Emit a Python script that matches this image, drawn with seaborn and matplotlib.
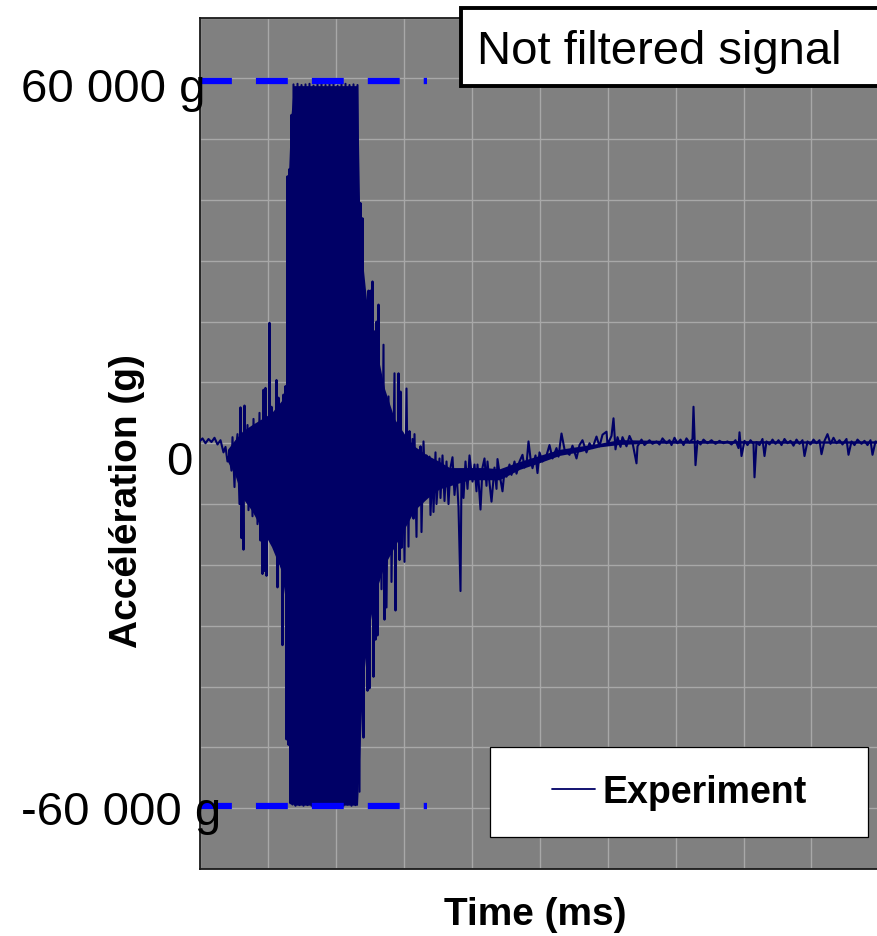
import numpy as np
import pandas as pd
import matplotlib
matplotlib.use("Agg")
import matplotlib.pyplot as plt
import seaborn as sns
from matplotlib.patches import Rectangle

# ---------------- data ----------------
# time in ms, acceleration in g (alternating peaks of the raw signal)
time_ms = [
    0.00, 0.03, 0.06, 0.09, 0.12, 0.15, 0.18, 0.21, 0.24, 0.26,
    0.28, 0.30, 0.32, 0.33, 0.35, 0.36, 0.38, 0.40, 0.41, 0.42,
    0.43, 0.44, 0.45, 0.46, 0.48, 0.49, 0.51, 0.53, 0.54, 0.56,
    0.57, 0.58, 0.60, 0.61, 0.62, 0.63, 0.64, 0.65, 0.66, 0.67,
    0.68, 0.69, 0.70, 0.71, 0.72, 0.73, 0.74, 0.76, 0.77, 0.78,
    0.79, 0.80, 0.81, 0.82, 0.825, 0.83, 0.84, 0.85, 0.86, 0.87,
    0.88, 0.89, 0.90, 0.91, 0.92, 0.93, 0.94, 0.96, 0.98, 1.00,
    1.02, 1.04, 1.06, 1.08, 1.10, 1.12, 1.14, 1.16, 1.18, 1.20,
    1.22, 1.24, 1.26, 1.28, 1.30, 1.32, 1.34, 1.36, 1.38, 1.40,
    1.42, 1.44, 1.46, 1.48, 1.50, 1.52, 1.54, 1.56, 1.58, 1.60,
    1.61, 1.62, 1.63, 1.64, 1.65, 1.66, 1.67, 1.68, 1.69, 1.70,
    1.71, 1.72, 1.73, 1.74, 1.75, 1.76, 1.77, 1.78, 1.79, 1.80,
    1.81, 1.82, 1.84, 1.85, 1.86, 1.87, 1.89, 1.90, 1.91, 1.92,
    1.95, 1.96, 1.97, 1.98, 1.99, 2.00, 2.01, 2.02, 2.03, 2.05,
    2.07, 2.09, 2.10, 2.11, 2.13, 2.14, 2.15, 2.17, 2.18, 2.20,
    2.21, 2.22, 2.24, 2.26, 2.27, 2.28, 2.30, 2.31, 2.33, 2.34,
    2.36, 2.37, 2.40, 2.41, 2.43, 2.45, 2.47, 2.49, 2.51, 2.53,
    2.55, 2.57, 2.59, 2.61, 2.62, 2.64, 2.66, 2.68, 2.70, 2.73,
    2.75, 2.77, 2.78, 2.81, 2.83, 2.85, 2.87, 2.88, 2.90, 2.92,
    2.95, 2.97, 2.98, 3.01, 3.03, 3.05, 3.07, 3.10, 3.12, 3.15,
    3.17, 3.20, 3.23, 3.25, 3.27, 3.29, 3.31, 3.33, 3.36, 3.38,
    3.40, 3.43, 3.47, 3.50, 3.53, 3.57, 3.59, 3.62, 3.65, 3.70,
    3.73, 3.77, 3.80, 3.83, 3.87, 3.90, 3.93, 3.97, 4.00, 4.03,
    4.07, 4.08, 4.12, 4.14, 4.16, 4.18, 4.21, 4.23, 4.27, 4.30,
    4.33, 4.37, 4.38, 4.42, 4.45, 4.50, 4.53, 4.57, 4.60, 4.63,
    4.67, 4.70, 4.72, 4.75, 4.78, 4.81, 4.84, 4.87, 4.90, 4.93,
    4.94, 4.96, 4.98, 5.01, 5.04, 5.08, 5.12, 5.16, 5.20, 5.24,
    5.28, 5.32, 5.36, 5.39, 5.40, 5.42, 5.45, 5.48, 5.51, 5.54,
    5.55, 5.57, 5.60, 5.63, 5.65, 5.67, 5.70, 5.73, 5.76, 5.79,
    5.82, 5.85, 5.88, 5.91, 5.94, 5.97, 6.00, 6.03, 6.05, 6.08,
    6.11, 6.14, 6.17, 6.20, 6.22, 6.25, 6.28, 6.31, 6.34, 6.37,
    6.40, 6.43, 6.47, 6.49, 6.52, 6.55, 6.58, 6.62, 6.65, 6.68,
    6.71, 6.73, 6.76, 6.80,
]
accel_g = [
    300, 800, 0, 700, 200, 900, -200, 500, -1500, -600,
    -3000, -1800, -4500, 1000, -7200, -2000, 1500, -10000, 5900, -15600,
    -3000, -17500, 6200, -8000, 3000, -11000, 2300, -12000, 4000, -9000,
    1600, -13300, 5000, -16000, 3600, -21500, 8800, -21000, 9100, -21800,
    2000, -12000, 19800, -10000, 6000, -13300, 2300, -15000, 10400, -23700,
    7500, -19000, 5500, -14000, 4600, -33200, 8000, -22700, 9400, -48700,
    43900, -49600, 45100, -59200, 54000, -59400, 59000, -59600, 59100, -59500,
    58900, -59600, 59000, -59500, 59100, -59600, 58800, -59400, 59000, -59600,
    59100, -59500, 58900, -59600, 59000, -59500, 59100, -59600, 58800, -59500,
    59000, -59600, 59100, -59400, 58900, -59600, 59000, -59500, 58900, -57300,
    39500, -40000, 37000, -48400, 17800, -27100, 16800, -40700, 25100, -40300,
    25100, -25500, 26600, -38400, 18400, -32300, 20000, -31600, 22800, -17500,
    3600, -24000, 16200, -29000, 6000, -27000, 7700, -12000, 4700, -22800,
    11500, -27500, 2000, -10000, 11500, -19200, 8500, -17200, 1650, -19500,
    9000, -17000, 2000, -8000, 700, -12400, 1500, -15400, -1100, -7000,
    -500, -14600, 300, -9000, -2000, -6000, -2200, -11800, -3000, -11300,
    -1500, -10000, -2500, -9000, -2000, -9500, -3000, -10000, -4000, -2300,
    -8500, -4500, -10500, -24300, -5000, -9000, -3000, -7500, -2000, -6300,
    -3500, -7900, -3500, -10900, -4000, -2500, -7000, -3000, -6500, -9600,
    -4000, -7500, -2600, -6000, -7900, -4500, -5500, -3500, -5200, -3000,
    -5000, -3000, -1900, -4000, -3500, 300, -2500, -4100, -2000, -4900,
    -1500, -3000, -2000, -300, -2500, -800, -2200, 1600, -1000, -1900,
    -400, -2500, -300, 500, -1500, 0, -800, 1100, -500, 1400,
    1900, -200, 1200, 4100, -1000, 1000, -600, 1000, -500, 1200,
    100, -3300, -500, 600, -300, 500, -100, 300, -200, 800,
    0, 500, -300, 900, 0, 600, -300, 800, 100, 700,
    6000, -3600, 400, -200, 600, 0, 500, -100, 400, 0,
    300, -200, 500, -800, 1800, -2100, 400, -300, 500, -100,
    -5600, 200, -300, 700, -2100, 300, -200, 600, -100, 500,
    -300, 700, 0, 400, -400, 600, -100, 500, -2100, 300,
    -200, 600, 0, 500, -1800, 400, 1500, -100, 900, 0,
    500, -200, 700, -1900, 300, -300, 600, -100, 400, -300,
    500, -1900, 300, 0,
]

# solid (saturated-looking) core of the trace: upper / lower edges
core_time_ms = [0.28, 0.35, 0.43, 0.52, 0.62, 0.72, 0.82, 0.86, 0.88, 0.91,
                0.94, 1.58, 1.60, 1.63, 1.68, 1.75, 1.85, 1.95, 2.05, 2.15,
                2.28, 2.40, 2.50, 2.60, 2.70, 2.85, 3.00, 3.20, 3.40, 3.60,
                3.80, 4.00, 4.20, 4.50, 5.00, 6.00, 6.80]
core_upper_g = [-1000, 500, 2000, 3000, 4000, 5000, 7000, 9000, 40000, 53000,
                58800, 58800, 40000, 30000, 22000, 17000, 9000, 4000, 1500, -500,
                -2000, -3000, -4000, -4000, -4000, -4000, -4200, -3000, -2000, -1000,
                -500, 0, 600, 500, 450, 400, 400]
core_lower_g = [-3000, -5000, -9000, -11000, -14000, -17000, -21000, -26000, -45000, -58000,
                -59500, -59500, -52000, -40000, -32000, -25000, -20000, -17000, -14000, -11000,
                -9000, -7500, -7000, -6500, -6000, -6000, -6000, -4300, -3200, -2000,
                -1400, -600, -200, 0, 0, 0, 0]

# saturation limits of the sensor (dashed lines)
limit_time_ms = [0.0, 2.28]
limit_g = 59600

ytick_labels = ["60 000 g", "0", "-60 000 g"]
series_label = "Experiment"
title_box_text = "Not filtered signal"

# ---------------- styling ----------------
sns.set_theme(style="white")
plt.rcParams["font.family"] = ["Liberation Sans", "DejaVu Sans"]
plt.rcParams["text.color"] = "black"

W, H = 877, 937
fig = plt.figure(figsize=(W / 100, H / 100), dpi=100)
ax_left, ax_right, ax_top, ax_bottom = 199.5, 880.0, 18.5, 870.0
ax = fig.add_axes([ax_left / W, 1 - ax_bottom / H,
                   (ax_right - ax_left) / W, (ax_bottom - ax_top) / H])
ax.set_facecolor("#808080")

navy = "#000066"
df = pd.DataFrame({"time_ms": time_ms, "accel_g": accel_g})

ax.fill_between(core_time_ms, core_lower_g, core_upper_g, color=navy,
                linewidth=0, zorder=2)
sns.lineplot(data=df, x="time_ms", y="accel_g", ax=ax, color=navy,
             linewidth=1.5, estimator=None, sort=False, label=series_label,
             zorder=3, legend=False)

for sgn in (1, -1):
    ax.plot(limit_time_ms, [sgn * limit_g] * 2, color="#0000FF", linewidth=4.5,
            dashes=(5.1, 3.85), solid_capstyle="butt", zorder=4)

ax.set_xlim(0, 6.805)
ax.set_ylim(-70000, 70000)
ax.set_xticks(np.arange(0, 6.81, 0.68))
ax.set_yticks(np.arange(-70000, 70001, 10000))
ax.grid(True, color="#A8A8A8", linewidth=1.0, zorder=1)
ax.set_axisbelow(True)
ax.tick_params(length=0, labelbottom=False, labelleft=False)
ax.set_xlabel("")
ax.set_ylabel("")
for side in ("left", "top", "bottom"):
    ax.spines[side].set_color("#1a1a1a")
    ax.spines[side].set_linewidth(1.3)
ax.spines["right"].set_visible(False)

# y "tick" labels drawn as text (they overhang the axes in the original)
label_x_px = [21, 166, 21]
label_base_px = [102, 475, 825]
for txt, xpx, ypx in zip(ytick_labels, label_x_px, label_base_px):
    fig.text(xpx / W, 1 - ypx / H, txt, fontsize=34, ha="left",
             va="baseline", color="black", zorder=6)

# axis titles
fig.text(127 / W, 1 - 501 / H, "Accélération (g)", rotation=90, fontsize=28,
         fontweight="bold", ha="center", va="center", color="black")
fig.text(535 / W, 1 - 915 / H, "Time (ms)", fontsize=28, fontweight="bold",
         ha="center", va="center", color="black")

# title box
rect = Rectangle((460.5 / W, 1 - 87 / H), (905 - 460.5) / W, 78 / H,
                 transform=fig.transFigure, facecolor="white",
                 edgecolor="black", linewidth=2.8, clip_on=False, zorder=5)
fig.add_artist(rect)
fig.text(477 / W, 1 - 64 / H, title_box_text, fontsize=34, ha="left",
         va="baseline", zorder=6, color="black")

# legend
def ax_x(px):
    return (px - ax_left) / (ax_right - ax_left)

def ax_y(py):
    return (ax_bottom - py) / (ax_bottom - ax_top)

leg_rect = Rectangle((ax_x(490), ax_y(838)), ax_x(868) - ax_x(490),
                     ax_y(748) - ax_y(838), transform=ax.transAxes,
                     facecolor="white", edgecolor="black", linewidth=0.9,
                     zorder=8, clip_on=False)
ax.add_patch(leg_rect)
handles, labels = ax.get_legend_handles_labels()
leg = ax.legend(handles[:1], labels[:1], loc="center",
                bbox_to_anchor=(ax_x(679), ax_y(793)), frameon=False,
                prop={"weight": "bold", "size": 27}, handlelength=1.15,
                handletextpad=0.2, borderpad=0.0, labelcolor="black")
leg.set_zorder(9)
for line in leg.get_lines():
    line.set_linewidth(1.3)

fig.savefig("out.png", dpi=100)
